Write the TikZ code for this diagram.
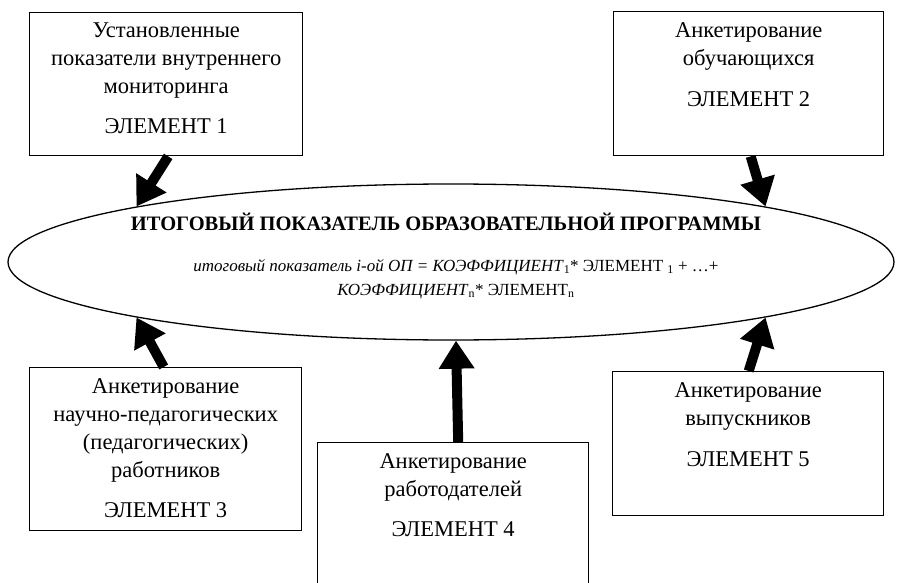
\documentclass[tikz,border=0pt]{standalone}
\usepackage{fontspec}
\setmainfont{Liberation Serif}
\usetikzlibrary{arrows.meta,shapes.geometric}
\begin{document}
\begin{tikzpicture}[x=1pt,y=-1pt,
  boxnode/.style={draw,line width=1.4pt,inner sep=0pt,anchor=north west},
  lbl/.style={align=center,inner sep=0pt,anchor=north,font=\fontsize{22.5}{28}\selectfont},
  bigarrow/.style={line width=10pt,-{Triangle[length=28pt,width=34pt]}}]
\useasboundingbox (0,0) rectangle (897,583);
\clip (0,0) rectangle (897,583);
% boxes
\node[boxnode,minimum width=273pt,minimum height=143pt] (b1) at (29,12) {};
\node[boxnode,minimum width=270pt,minimum height=144pt] (b2) at (613,11) {};
\node[boxnode,minimum width=272pt,minimum height=163pt] (b3) at (29,367) {};
\node[boxnode,minimum width=271pt,minimum height=160pt] (b4) at (317,442) {};
\node[boxnode,minimum width=271pt,minimum height=144pt] (b5) at (612,371) {};
% texts
\node[lbl] (t1) at (b1.north) [yshift=-11pt] {Установленные\\показатели внутреннего\\мониторинга\\[12pt]ЭЛЕМЕНТ 1};
\node[lbl] (t2) at (b2.north) [yshift=-11pt] {Анкетирование\\обучающихся\\[13pt]ЭЛЕМЕНТ 2};
\node[lbl] (t3) at (b3.north) [yshift=-11pt] {Анкетирование\\научно-педагогических\\(педагогических)\\работников\\[12pt]ЭЛЕМЕНТ 3};
\node[lbl] (t4) at (b4.north) [yshift=-11pt] {Анкетирование\\работодателей\\[12pt]ЭЛЕМЕНТ 4};
\node[lbl] (t5) at (b5.north) [yshift=-11pt] {Анкетирование\\выпускников\\[13pt]ЭЛЕМЕНТ 5};
% ellipse
\node[draw,ellipse,line width=1.3pt,minimum width=886pt,minimum height=156pt,inner sep=0pt] (e) at (451,262) {};
\node[font=\bfseries\fontsize{20.5}{24}\selectfont,inner sep=0pt] (h) at (446,222) {ИТОГОВЫЙ ПОКАЗАТЕЛЬ ОБРАЗОВАТЕЛЬНОЙ ПРОГРАММЫ};
\node[align=center,inner sep=0pt,font=\fontsize{17}{24}\selectfont] (f) at (456,279)
  {\textit{итоговый показатель i-ой ОП = КОЭФФИЦИЕНТ}\textsubscript{1}* ЭЛЕМЕНТ \textsubscript{1} + …+\\
   \textit{КОЭФФИЦИЕНТ}\textsubscript{n}* ЭЛЕМЕНТ\textsubscript{n}};
% arrows
\draw[bigarrow] ([xshift=2pt]b1.south) -- (e.170);
\draw[bigarrow] ([xshift=2pt]b2.south) -- (e.10);
\draw[bigarrow] ([xshift=-2pt]b3.north) -- (e.190);
\draw[bigarrow] ([xshift=5pt]b4.north) -- ([xshift=5pt]e.south);
\draw[bigarrow] ([xshift=0.5pt]b5.north) -- (e.350);
\end{tikzpicture}
\end{document}
